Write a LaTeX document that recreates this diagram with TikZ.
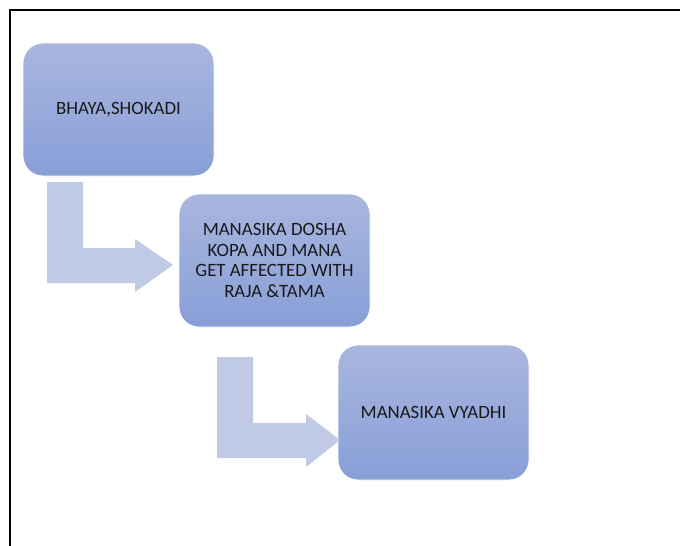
\documentclass[tikz,border=0pt]{standalone}
\usepackage{fontspec}
\setmainfont{Carlito}
\usetikzlibrary{backgrounds}
\definecolor{boxtop}{HTML}{A9B6DF}
\definecolor{boxbot}{HTML}{889FD7}
\definecolor{arrowfill}{HTML}{C0CAE5}
\tikzset{
  stepbox/.style={rectangle, rounded corners=20pt, draw=white, line width=0.8pt,
    top color=boxtop, bottom color=boxbot, align=center, font=\fontsize{18.8}{20.5}\selectfont,
    text=black!90, inner sep=2pt},
  bentarrow/.style={fill=arrowfill, draw=none},
  frameline/.style={line width=2pt, draw=black}
}
\begin{document}
\begin{tikzpicture}[x=1pt,y=-1pt]
\useasboundingbox (0,0) rectangle (680,546);
\fill[white] (0,0) rectangle (680,546);
\draw[frameline] (9,10) -- (680,10);
\draw[frameline] (10,9) -- (10,546);
% bent arrows (behind boxes)
\fill[bentarrow] (47,182) -- (83,182) -- (83,248) -- (135,248) -- (135,239) -- (173,265)
  -- (135,292) -- (135,283) -- (47,283) -- cycle;
\fill[bentarrow] (217,357) -- (253,357) -- (253,423) -- (306,423) -- (306,414) -- (340,440)
  -- (306,467) -- (306,458) -- (217,458) -- cycle;
% boxes
\node[stepbox, minimum width=191pt, minimum height=133pt] (b1) at (118.5,109.5) {BHAYA,SHOKADI};
\node[stepbox, minimum width=191pt, minimum height=133pt] (b2) at (274.5,260.5)
  {MANASIKA DOSHA\\KOPA AND MANA\\GET AFFECTED WITH\\RAJA \&TAMA};
\node[stepbox, minimum width=191pt, minimum height=135pt] (b3) at (433.5,412.5) {MANASIKA VYADHI};
\end{tikzpicture}
\end{document}
